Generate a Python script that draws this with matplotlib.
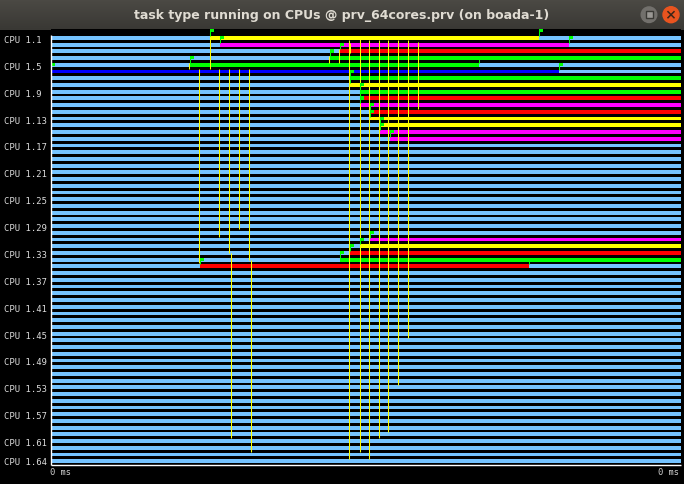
import numpy as np
import matplotlib.pyplot as plt
from matplotlib.patches import Circle, Rectangle

# time in ns from the start of the window (whole window is < 1 ms)
n_cpus = 64
window_end = 630
cpu_labels = ["CPU 1.%d" % (i + 1) for i in range(n_cpus)]
shown_rows = list(range(0, 61, 4)) + [63]

# task type colours (paraver palette)
palette = {0: "#75c3ff", 1: "#0000ff", 3: "#ff0000", 6: "#00ff00", 7: "#ffff00", 10: "#ff00ff"}

# bursts that are not idle: cpu row, start, end, task type
burst_cpu = [0, 1, 2, 3, 4, 5, 6, 7, 8, 9, 10, 11, 12, 13, 14, 15, 30, 31, 32, 33, 34]
burst_start = [159, 169, 289, 279, 139, 0, 299, 299, 309, 309, 309, 319, 319, 329, 329, 339, 319, 309, 299, 289, 149]
burst_end = [488, 518, 630, 630, 428, 508, 630, 630, 630, 630, 630, 630, 630, 630, 630, 630, 630, 630, 630, 630, 478]
burst_type = [7, 10, 3, 6, 6, 1, 6, 7, 6, 3, 10, 3, 7, 7, 10, 10, 10, 7, 3, 6, 3]

# event flags
flag_time = [159, 488, 169, 518, 289, 279, 139, 428, 0, 508, 299, 299, 309, 309, 309,
             319, 319, 329, 329, 339, 319, 309, 299, 289, 149, 478]
flag_cpu = [0, 0, 1, 1, 2, 3, 4, 4, 5, 5, 6, 7, 8, 9, 10, 11, 12, 13, 14, 15, 30, 31, 32, 33, 34, 34]

# communication lines: time, from row, to row
comm_time = [159, 138, 148, 168, 178, 180, 188, 198, 200, 278, 288,
             298, 309, 318, 328, 337, 347, 357, 367, 299, 309]
comm_from = [-0.45, 4.02, 4.91, 4.91, 4.91, 32.29, 4.91, 4.91, 33.33, 2.98, 1.93,
             0.6, 0.45, 0.6, 0.6, 0.6, 0.6, 0.6, 0.89, 1.04, 0.45]
comm_to = [4.91, 4.91, 33.78, 29.91, 32.29, 59.82, 28.72, 33.33, 61.9, 4.02, 4.02,
           62.95, 61.9, 62.95, 59.82, 58.93, 51.93, 44.94, 10.86, 2.53, 2.08]

W, H = 684, 484
fig = plt.figure(figsize=(W / 100, H / 100), dpi=100, facecolor="black")

# window title bar
tb = fig.add_axes([0, 1 - 30 / H, 1, 30 / H])
grad = np.linspace(0, 1, 30).reshape(-1, 1)
tb.imshow(grad, extent=(0, W, 30, 0), aspect="auto",
          cmap=plt.matplotlib.colors.LinearSegmentedColormap.from_list("tb", ["#4b4944", "#393834"]))
tb.set_xlim(0, W)
tb.set_ylim(30, 0)
tb.axis("off")
tb.text(342, 15, "task type running on CPUs @ prv_64cores.prv (on boada-1)",
        ha="center", va="center", color="#dfdbd2", fontsize=9, fontweight="bold")
tb.add_patch(Circle((649, 14.7), 7.8, color="#72706c"))
tb.add_patch(Rectangle((645.5, 11.2), 7, 7, facecolor="#9a9894", edgecolor="#3a3935", lw=1.0))
tb.add_patch(Circle((671, 14.7), 8, color="#e9541f"))
tb.plot([668, 674], [11.7, 17.7], color="#3b2518", lw=1.1)
tb.plot([668, 674], [17.7, 11.7], color="#3b2518", lw=1.1)

# trace view (offset half a pixel so 1 px lines sit on pixel centres)
ax = fig.add_axes([50.5 / W, (H - 465) / H, 630 / W, (465 - 29.3) / H])
ax.set_facecolor("black")
bar_h = 0.57
ax.barh(range(n_cpus), window_end, left=0, height=bar_h, align="edge", color=palette[0],
        lw=0, antialiased=False)
ax.barh(burst_cpu, np.subtract(burst_end, burst_start), left=burst_start, height=bar_h,
        align="edge", color=[palette[t] for t in burst_type], lw=0, antialiased=False)
ax.vlines(comm_time, comm_from, comm_to, color="#ffff00", lw=0.75, zorder=3)
ax.vlines(flag_time, np.array(flag_cpu) - 1.0, flag_cpu, color="#00ff00", lw=0.75, zorder=4)
ax.barh(np.array(flag_cpu) - 1.0, 4.8, left=flag_time, height=0.46, align="edge",
        color="#00ff00", lw=0, zorder=4, antialiased=False)

ax.set_xlim(0, window_end)
ax.set_ylim(63.84, -1.0)
for s in ax.spines.values():
    s.set_visible(False)
ax.set_xticks([])
ax.set_yticks([])
ax.vlines(0, -0.15, 63.84, color="white", lw=1.0, clip_on=False, zorder=5)
ax.hlines(63.84, 0, window_end, color="white", lw=1.0, clip_on=False, zorder=5)

for r in shown_rows:
    ypos = 63.5 if r == 63 else r + 0.65
    ax.text(-46, ypos, cpu_labels[r], ha="left", va="center", color="#dcdcdc",
            fontsize=6.4, family="DejaVu Sans Mono", clip_on=False)

ax.text(0, 65.0, "0 ms", ha="left", va="center", color="#d0d0d0", fontsize=6.3,
        family="DejaVu Sans Mono", clip_on=False)
ax.text(window_end - 1, 65.0, "0 ms", ha="right", va="center", color="#d0d0d0", fontsize=6.3,
        family="DejaVu Sans Mono", clip_on=False)

fig.savefig("out.png", dpi=100, facecolor="black")
